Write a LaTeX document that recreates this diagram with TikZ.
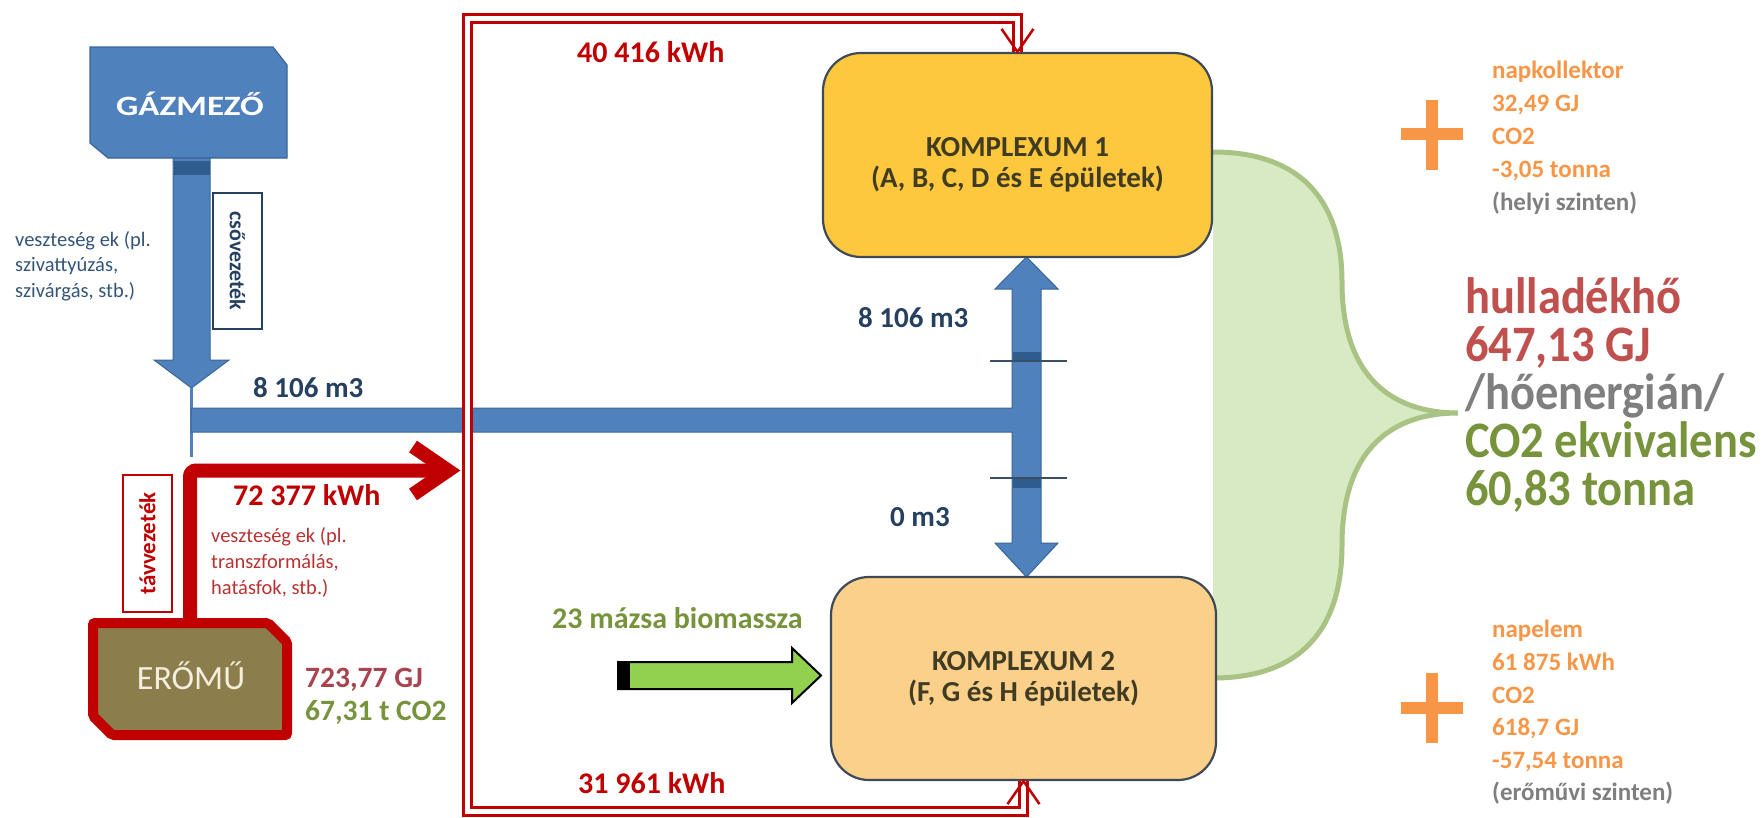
\documentclass[tikz,border=0pt]{standalone}
\usepackage{fontspec}
\setmainfont{Carlito}
\newfontfamily\widefont{Carlito}[FakeStretch=1.25]
\usetikzlibrary{calc}
\definecolor{pipeblue}{HTML}{4F81BD}
\definecolor{pipeedge}{HTML}{3A6596}
\definecolor{pipedark}{HTML}{2E5C8E}
\definecolor{tickc}{HTML}{3A4F66}
\definecolor{navy}{HTML}{254061}
\definecolor{darkred}{HTML}{C00000}
\definecolor{oliveg}{HTML}{77933C}
\definecolor{olivebox}{HTML}{8C7D4C}
\definecolor{kfillA}{HTML}{FDC83E}
\definecolor{kfillB}{HTML}{FAD08A}
\definecolor{boxedge}{HTML}{3E4A57}
\definecolor{boxtext}{HTML}{403B23}
\definecolor{orng}{HTML}{F79646}
\definecolor{bracefill}{HTML}{D7EAC3}
\definecolor{braceedge}{HTML}{A8C383}
\definecolor{accred}{HTML}{C0504D}
\definecolor{gtext}{HTML}{7F7F7F}
\definecolor{lossblue}{HTML}{34557A}
\definecolor{lossred}{HTML}{B83232}
\definecolor{gjred}{HTML}{A9434E}
\definecolor{biogreen}{HTML}{92D050}
\definecolor{erotext}{HTML}{F4EFDC}
\newcommand{\tallbox}[1]{\scalebox{1}[1.1]{#1}}
\tikzset{
  txt/.style={inner sep=0pt, anchor=base west},
  bluelbl/.style={txt, text=navy, font=\fontsize{29}{32}\selectfont\bfseries},
  redlbl/.style={txt, text=darkred, font=\fontsize{30}{32}\selectfont\bfseries},
  losstxt/.style={txt, font=\fontsize{20.5}{24}\selectfont},
  sidetxt/.style={txt, font=\fontsize{25}{33}\selectfont\bfseries},
  bigtxt/.style={txt, font=\fontsize{46.5}{44}\selectfont\bfseries},
  kbox/.style={draw=boxedge, line width=2.2pt, rounded corners=38pt, inner sep=0pt},
  ktext/.style={align=center, text=boxtext, font=\fontsize{29}{31}\selectfont\bfseries, inner sep=0pt},
  pipe/.style={fill=pipeblue, draw=pipeedge, line width=1pt},
  dbl/.style={draw=darkred, line width=3pt, double=white, double distance=5pt},
  bigred/.style={draw=darkred, line width=14pt},
  plusbar/.style={draw=orng, line width=12pt},
  vbox/.style={draw, line width=1.8pt, fill=white, minimum width=#1, minimum height=49pt, inner sep=0pt}
}
\begin{document}
\begin{tikzpicture}[x=1pt,y=-1pt]
\fill[white] (0,0) rectangle (1762,817);
\useasboundingbox (0,0) rectangle (1762,817);

% green brace
\fill[bracefill] (1213,152) .. controls (1300,152) and (1342,200) .. (1342,282)
  .. controls (1342,380) and (1395,413) .. (1458,413)
  .. controls (1395,413) and (1342,446) .. (1342,545)
  .. controls (1342,630) and (1300,678) .. (1213,678) -- cycle;
\draw[braceedge, line width=5pt] (1213,152) .. controls (1300,152) and (1342,200) .. (1342,282)
  .. controls (1342,380) and (1395,413) .. (1458,413)
  .. controls (1395,413) and (1342,446) .. (1342,545)
  .. controls (1342,630) and (1300,678) .. (1213,678);

% GAZMEZO
\draw[pipe, line width=1.2pt] (90,47) -- (273,47) -- (287,65) -- (287,158) -- (108,158) -- (90,143) -- cycle;
\node[inner sep=0pt, anchor=base, text=white, font=\widefont\fontsize{28}{30}\selectfont\bfseries] (gaz) at (190,115) {GÁZMEZŐ};

% gas arrow down
\coordinate (gtip) at (191.5,388);
\coordinate (gjoin) at (191.5,457);
\draw[pipe] (173,158) -- (173,360) -- (154,360) -- (gtip) -- (229,360) -- (210,360) -- (210,158) -- cycle;
\fill[pipedark] (173.5,161) rectangle (209.5,175);
\draw[pipeblue, line width=2.8pt] (gtip) -- (gjoin);

% T pipe
\draw[pipe] (1026.5,257) -- (1058,289) -- (1041,289) -- (1041,543) -- (1058,543) -- (1026.5,577)
  -- (995,543) -- (1012,543) -- (1012,432) -- (191,432) -- (191,408) -- (1012,408)
  -- (1012,289) -- (995,289) -- cycle;
\fill[pipedark] (1012.5,352) rectangle (1040.5,362);
\fill[pipedark] (1012.5,478) rectangle (1040.5,488);
\draw[tickc, line width=2pt] (990,361) -- (1067,361);
\draw[tickc, line width=2pt] (990,478) -- (1067,478);

% complex boxes
\node[kbox, fill=kfillA, minimum width=389pt, minimum height=204pt] (k1) at (1017.5,155) {};
\node[ktext] (k1t) at ([yshift=-10pt]k1.center) {KOMPLEXUM 1\\(A, B, C, D és E épületek)};
\node[kbox, fill=kfillB, minimum width=385pt, minimum height=203pt] (k2) at (1023.5,678.5) {};
\node[ktext] (k2t) at (k2.center) {KOMPLEXUM 2\\(F, G és H épületek)};

% pipe label boxes
\node[vbox=136pt, draw=navy, rotate=-90, text=navy, font=\fontsize{22}{24}\selectfont\bfseries] (cso) at (237.5,261) {csővezeték};
\node[vbox=137pt, draw=darkred, rotate=90, text=darkred, font=\fontsize{23}{24}\selectfont\bfseries] (tav) at (147.5,543.5) {távvezeték};

% power plant
\draw[fill=olivebox, draw=darkred, line width=10pt, rounded corners=2pt] (93,623) -- (268,623) -- (287,642) -- (287,735) -- (112,735) -- (93,716) -- cycle;
\node[inner sep=0pt, anchor=base, text=erotext, font=\fontsize{34}{36}\selectfont] (ero) at (191,689) {ERŐMŰ};

% red main arrow
\coordinate (erotop) at (190,623);
\coordinate (redtip) at (448,470.5);
\draw[bigred, rounded corners=6pt] (erotop) |- ($(redtip)+(-4,0)$);
\draw[bigred, line join=miter] ($(redtip)+(-35,-24)$) -- (redtip) -- ($(redtip)+(-35,24)$);

% red double distribution line
\coordinate (dtl) at (467.5,18);
\coordinate (dbl) at (467.5,811);
\draw[dbl] (k1.north) -- (k1.north |- dtl) -- (dtl) -- (dbl) -- (k2.south |- dbl) -- (k2.south);
\draw[darkred, line width=2.5pt] ($(k1.north)+(-16,-23)$) -- (k1.north) -- ($(k1.north)+(16,-23)$);
\draw[darkred, line width=2.5pt] ($(k2.south)+(-16,23)$) -- (k2.south) -- ($(k2.south)+(16,23)$);

% biomass arrow
\draw[fill=biogreen, draw=black, line width=2pt] (618,662) -- (792,662) -- (792,648) -- (821,675.5) -- (792,703) -- (792,689) -- (618,689) -- cycle;
\fill[black] (617,661) rectangle (630,690);

% plus signs
\draw[plusbar] (1432,100) -- (1432,170);
\draw[plusbar] (1401,134) -- (1463,134);
\draw[plusbar] (1432,673) -- (1432,743);
\draw[plusbar] (1401,708) -- (1463,708);

% labels
\node[bluelbl] (l1) at (253,397) {8 106 m3};
\node[bluelbl] (l2) at (858,327) {8 106 m3};
\node[bluelbl] (l3) at (890,526) {0 m3};
\node[redlbl] (l4) at (577,62) {40 416 kWh};
\node[redlbl] (l5) at (578,793) {31 961 kWh};
\node[redlbl] (l6) at (233,505) {72 377 kWh};
\node[txt, text=gjred, font=\fontsize{29.5}{32}\selectfont\bfseries] (l7) at (305,687) {723,77 GJ};
\node[txt, text=oliveg, font=\fontsize{29.5}{32}\selectfont\bfseries] (l8) at (305,720) {67,31 t CO2};
\node[txt, text=oliveg, font=\fontsize{30}{32}\selectfont\bfseries] (l9) at (552,628) {23 mázsa biomassza};

\node[losstxt, text=lossblue] (la1) at (15,246) {veszteség ek (pl.};
\node[losstxt, text=lossblue] (la2) at (15,271) {szivattyúzás,};
\node[losstxt, text=lossblue] (la3) at (15,297) {szivárgás, stb.)};
\node[losstxt, text=lossred] (lb1) at (211,542) {veszteség ek (pl.};
\node[losstxt, text=lossred] (lb2) at (211,568) {transzformálás,};
\node[losstxt, text=lossred] (lb3) at (211,594) {hatásfok, stb.)};

\node[sidetxt, text=orng] (s1) at (1492,78) {napkollektor};
\node[sidetxt, text=orng] (s2) at (1492,111) {32,49 GJ};
\node[sidetxt, text=orng] (s3) at (1492,144) {CO2};
\node[sidetxt, text=orng] (s4) at (1492,177) {-3,05 tonna};
\node[sidetxt, text=gtext] (s5) at (1492,210) {(helyi szinten)};

\node[sidetxt, text=orng] (t1) at (1492,637) {napelem};
\node[sidetxt, text=orng] (t2) at (1492,670) {61 875 kWh};
\node[sidetxt, text=orng] (t3) at (1492,703) {CO2};
\node[sidetxt, text=orng] (t4) at (1492,735) {618,7 GJ};
\node[sidetxt, text=orng] (t5) at (1492,768) {-57,54 tonna};
\node[sidetxt, text=gtext] (t6) at (1492,800) {(erőművi szinten)};

\node[bigtxt, text=accred] (b1) at (1465,313) {\tallbox{hulladékhő}};
\node[bigtxt, text=accred] (b2) at (1465,361) {\tallbox{647,13 GJ}};
\node[bigtxt, text=gtext] (b3) at (1465,409) {\tallbox{/hőenergián/}};
\node[bigtxt, text=oliveg] (b4) at (1465,457) {\tallbox{CO2 ekvivalens}};
\node[bigtxt, text=oliveg] (b5) at (1465,505) {\tallbox{60,83 tonna}};
\end{tikzpicture}
\end{document}
